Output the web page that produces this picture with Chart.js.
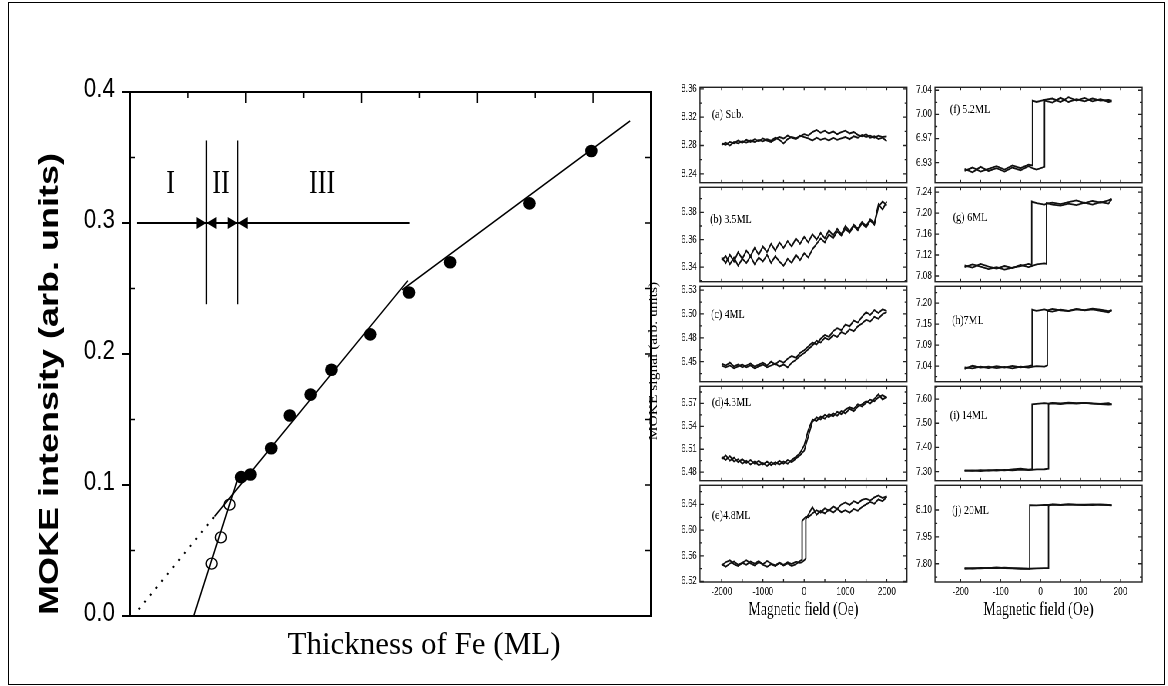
<!DOCTYPE html>
<html>
<head>
<meta charset="utf-8">
<script src="https://cdn.jsdelivr.net/npm/chart.js@4.4.0/dist/chart.umd.min.js"></script>
<style>
  html, body { margin: 0; padding: 0; background: #fff; }
  #page { position: relative; width: 1168px; height: 686px; overflow: hidden; background: #fff; }
  #frame { position: absolute; left: 8px; top: 2px; width: 1157px; height: 683px; border: 1px solid #000; box-sizing: border-box; }
  #main { position: absolute; left: 0; top: 0; }
  #loops { position: absolute; left: 640px; top: 0; width: 686px; height: 686px; transform: scaleX(0.77); transform-origin: 0 0; }
  #loops canvas { position: absolute; }
</style>
</head>
<body>
<div id="page">
  <div id="frame"></div>
  <canvas id="main" width="670" height="686"></canvas>
  <div id="loops"></div>
</div>
<script>
// ---- main panel: MOKE intensity vs Fe thickness ----
const thickFilled = [1.92, 2.08, 2.44, 2.76, 3.12, 3.48, 4.15, 4.82, 5.53, 6.90, 7.97];
const mokeFilled  = [0.106, 0.108, 0.128, 0.153, 0.169, 0.188, 0.215, 0.247, 0.270, 0.315, 0.355];
const thickOpen = [1.41, 1.57, 1.72];
const mokeOpen  = [0.040, 0.060, 0.085];

const fitZeroX = [0.01, 1.10],   fitZeroY = [0, 0];
const fitSteepX = [1.10, 1.90],  fitSteepY = [0, 0.110];
const fitDotX = [0.15, 1.46],    fitDotY = [0.005, 0.076];
const fitMidX = [1.46, 4.80],    fitMidY = [0.076, 0.256];
const fitHighX = [4.70, 8.64],   fitHighY = [0.249, 0.378];

const regionSpanX = [0.12, 4.83];
const regionLevel = 0.30;
const regionEdges = [1.32, 1.86];
const regionEdgeY = [0.238, 0.363];
const regionNames = ['I', 'II', 'III'];
const regionNameX = [0.70, 1.57, 3.32];
const regionNameY = 0.33;

const mokeTicks = [0, 0.1, 0.2, 0.3, 0.4];
const mokeTickLabels = ['0.0', '0.1', '0.2', '0.3', '0.4'];
const mokeMinor = [0.05, 0.15, 0.25, 0.35];
const thickTopTicks = [1, 2, 3, 4, 5, 6, 7, 8];

// ---- hysteresis loops ----
const fieldL = [-2000,-1900,-1800,-1700,-1600,-1500,-1400,-1300,-1200,-1100,-1000,-900,-800,-700,-600,-500,-400,-300,-200,-100,0,100,200,300,400,500,600,700,800,900,1000,1100,1200,1300,1400,1500,1600,1700,1800,1900,2000];
const fieldE = [-2000,-1900,-1800,-1700,-1600,-1500,-1400,-1300,-1200,-1100,-1000,-900,-800,-700,-600,-500,-400,-300,-200,-100,-50,-50,0,40,40,100,200,300,400,500,600,700,800,900,1000,1100,1200,1300,1400,1500,1600,1700,1800,1900,2000];
const fieldF = [-190,-170,-150,-130,-110,-90,-70,-50,-30,-20,-20,-10,10,10,30,50,70,90,110,130,150,170,178];
const fieldG = [-190,-170,-150,-130,-110,-90,-70,-50,-30,-22,-22,-10,10,15,15,30,50,70,90,110,130,150,170,178];
const fieldH = [-190,-170,-150,-130,-110,-90,-70,-50,-30,-21,-21,-10,10,17,17,30,50,70,90,110,130,150,170,178];
const fieldI = [-190,-170,-150,-130,-110,-90,-70,-50,-30,-21,-21,-10,10,20,20,30,50,70,90,110,130,150,170,178];
const fieldJ = [-190,-170,-150,-130,-110,-90,-70,-50,-30,-27,-27,-10,10,20,20,30,50,70,90,110,130,150,170,178];

const sweepA1 = [8.281,8.284,8.280,8.285,8.283,8.286,8.284,8.287,8.285,8.288,8.286,8.289,8.287,8.291,8.288,8.283,8.289,8.292,8.290,8.294,8.292,8.290,8.287,8.291,8.288,8.290,8.287,8.291,8.288,8.290,8.292,8.289,8.293,8.291,8.295,8.292,8.294,8.291,8.294,8.292,8.293];
const sweepA2 = [8.283,8.281,8.285,8.283,8.287,8.284,8.288,8.285,8.289,8.286,8.290,8.287,8.285,8.289,8.292,8.290,8.294,8.291,8.289,8.293,8.296,8.294,8.299,8.302,8.298,8.301,8.297,8.300,8.296,8.299,8.301,8.297,8.299,8.295,8.293,8.296,8.291,8.293,8.289,8.291,8.286];
const sweepB1 = [6.347,6.343,6.349,6.344,6.351,6.346,6.352,6.348,6.354,6.349,6.355,6.351,6.357,6.352,6.358,6.354,6.359,6.355,6.361,6.357,6.362,6.358,6.364,6.360,6.365,6.361,6.367,6.363,6.368,6.364,6.370,6.366,6.371,6.368,6.373,6.370,6.375,6.372,6.386,6.382,6.388];
const sweepB2 = [6.345,6.348,6.342,6.347,6.341,6.346,6.343,6.348,6.342,6.347,6.344,6.349,6.343,6.348,6.344,6.341,6.346,6.343,6.349,6.345,6.350,6.347,6.353,6.357,6.361,6.358,6.364,6.361,6.366,6.363,6.368,6.365,6.370,6.367,6.372,6.369,6.374,6.371,6.384,6.388,6.385];
const sweepC1 = [6.448,6.446,6.449,6.445,6.447,6.444,6.446,6.448,6.445,6.447,6.449,6.446,6.450,6.447,6.451,6.449,6.453,6.456,6.454,6.459,6.462,6.466,6.470,6.468,6.474,6.478,6.476,6.482,6.485,6.483,6.489,6.487,6.493,6.491,6.497,6.502,6.499,6.504,6.501,6.505,6.503];
const sweepC2 = [6.446,6.444,6.446,6.443,6.445,6.447,6.444,6.446,6.443,6.445,6.447,6.444,6.446,6.448,6.445,6.447,6.444,6.449,6.452,6.456,6.459,6.463,6.467,6.472,6.470,6.475,6.473,6.478,6.476,6.481,6.479,6.484,6.482,6.487,6.490,6.494,6.492,6.497,6.495,6.500,6.502];
const sweepD1 = [6.500,6.496,6.501,6.494,6.497,6.491,6.495,6.490,6.494,6.489,6.492,6.488,6.493,6.490,6.495,6.491,6.496,6.493,6.498,6.502,6.508,6.527,6.546,6.552,6.549,6.555,6.552,6.557,6.554,6.560,6.557,6.563,6.560,6.566,6.569,6.573,6.570,6.576,6.582,6.575,6.579];
const sweepD2 = [6.497,6.502,6.495,6.499,6.493,6.497,6.492,6.496,6.491,6.495,6.490,6.494,6.489,6.493,6.490,6.494,6.491,6.496,6.500,6.505,6.515,6.535,6.549,6.547,6.553,6.550,6.556,6.553,6.559,6.556,6.562,6.565,6.563,6.569,6.566,6.571,6.575,6.573,6.578,6.581,6.577];
const sweepEUp = [6.545,6.550,6.553,6.547,6.544,6.549,6.546,6.551,6.548,6.552,6.546,6.543,6.547,6.544,6.549,6.546,6.550,6.547,6.551,6.549,6.550,6.550,6.553,6.556,6.617,6.624,6.636,6.624,6.630,6.626,6.632,6.627,6.633,6.628,6.631,6.627,6.633,6.630,6.636,6.640,6.644,6.641,6.648,6.645,6.652];
const sweepEDown = [6.547,6.543,6.548,6.551,6.546,6.549,6.553,6.548,6.545,6.550,6.547,6.552,6.548,6.545,6.549,6.545,6.548,6.544,6.547,6.552,6.554,6.614,6.618,6.621,6.621,6.620,6.626,6.631,6.627,6.634,6.630,6.637,6.633,6.640,6.643,6.639,6.645,6.642,6.647,6.649,6.646,6.651,6.654,6.650,6.653];
const sweepFUp = [6.921,6.916,6.924,6.918,6.922,6.917,6.923,6.919,6.925,6.922,6.922,6.920,6.924,7.020,7.017,7.024,7.018,7.022,7.019,7.023,7.020,7.021,7.020];
const sweepFDown = [6.918,6.923,6.917,6.921,6.925,6.920,6.926,6.922,6.927,6.926,7.020,7.018,7.021,7.021,7.023,7.018,7.025,7.020,7.024,7.019,7.022,7.018,7.019];
const sweepGUp = [7.100,7.096,7.103,7.098,7.094,7.099,7.095,7.101,7.097,7.099,7.099,7.102,7.104,7.103,7.219,7.216,7.214,7.218,7.215,7.220,7.216,7.221,7.218,7.226];
const sweepGDown = [7.097,7.102,7.098,7.093,7.097,7.092,7.096,7.099,7.103,7.101,7.222,7.219,7.216,7.218,7.218,7.220,7.217,7.221,7.224,7.219,7.223,7.220,7.224,7.227];
const sweepHUp = [7.028,7.036,7.031,7.034,7.030,7.033,7.029,7.034,7.031,7.033,7.033,7.035,7.034,7.037,7.180,7.178,7.183,7.180,7.185,7.181,7.184,7.180,7.176,7.181];
const sweepHDown = [7.032,7.029,7.034,7.030,7.035,7.031,7.036,7.032,7.035,7.037,7.183,7.180,7.184,7.181,7.181,7.185,7.181,7.179,7.184,7.182,7.186,7.183,7.179,7.182];
const sweepIUp = [7.303,7.305,7.302,7.306,7.304,7.307,7.305,7.308,7.306,7.307,7.307,7.309,7.310,7.312,7.580,7.582,7.579,7.583,7.581,7.584,7.582,7.580,7.583,7.578];
const sweepIDown = [7.305,7.303,7.306,7.304,7.307,7.305,7.309,7.312,7.308,7.310,7.578,7.580,7.583,7.581,7.581,7.584,7.582,7.585,7.583,7.584,7.581,7.579,7.577,7.578];
const sweepJUp = [7.772,7.776,7.774,7.777,7.775,7.778,7.776,7.774,7.773,7.772,7.772,7.774,7.775,7.776,8.124,8.130,8.128,8.131,8.129,8.130,8.128,8.131,8.129,8.127];
const sweepJDown = [7.775,7.773,7.777,7.775,7.779,7.776,7.774,7.772,7.771,7.771,8.127,8.126,8.129,8.128,8.128,8.131,8.129,8.132,8.130,8.128,8.131,8.129,8.127,8.126];

const rangeA = [8.2274, 8.3623], ticksA = [8.24, 8.28, 8.32, 8.36],     labelsA = ['8.24', '8.28', '8.32', '8.36'];
const rangeB = [6.3293, 6.3983], ticksB = [6.34, 6.36, 6.38],           labelsB = ['6.34', '6.36', '6.38'];
const rangeC = [6.429, 6.529],   ticksC = [6.45, 6.475, 6.50, 6.525],   labelsC = ['6.45', '6.48', '6.50', '6.53'];
const rangeD = [6.4688, 6.5925], ticksD = [6.48, 6.51, 6.54, 6.57],     labelsD = ['6.48', '6.51', '6.54', '6.57'];
const rangeE = [6.5192, 6.6698], ticksE = [6.52, 6.56, 6.60, 6.64],     labelsE = ['6.52', '6.56', '6.60', '6.64'];
const rangeF = [6.901, 7.0393],  ticksF = [6.93, 6.965, 7.00, 7.035],   labelsF = ['6.93', '6.97', '7.00', '7.04'];
const rangeG = [7.0691, 7.2491], ticksG = [7.08, 7.12, 7.16, 7.20, 7.24], labelsG = ['7.08', '7.12', '7.16', '7.20', '7.24'];
const rangeH = [6.9943, 7.2443], ticksH = [7.035, 7.09, 7.145, 7.20],   labelsH = ['7.04', '7.09', '7.15', '7.20'];
const rangeI = [7.2626, 7.6528], ticksI = [7.30, 7.40, 7.50, 7.60],     labelsI = ['7.30', '7.40', '7.50', '7.60'];
const rangeJ = [7.698, 8.238],   ticksJ = [7.80, 7.95, 8.10],           labelsJ = ['7.80', '7.95', '8.10'];

const fieldRangeL = [-2525, 2490], fieldTicksL = [-2000, -1000, 0, 1000, 2000];
const fieldMinorL = [-2000, -1500, -1000, -500, 0, 500, 1000, 1500, 2000];
const fieldRangeR = [-264, 254],   fieldTicksR = [-200, -100, 0, 100, 200];
const fieldMinorR = [-200, -150, -100, -50, 0, 50, 100, 150, 200];

const SERIF = '"Liberation Serif", "Times New Roman", serif';
const SANS = '"Liberation Sans", Arial, sans-serif';
const SQ = 0.77; // the original figure is squeezed horizontally

const pts = (xs, ys) => xs.map((x, i) => ({ x, y: ys[i] }));

function squeezedText(ctx, text, x, y, font, sx, align) {
  ctx.save();
  ctx.translate(x, y);
  ctx.scale(sx, 1);
  ctx.font = font;
  ctx.textAlign = align || 'center';
  ctx.textBaseline = 'middle';
  ctx.fillText(text, 0, 0);
  ctx.restore();
}

function verticalText(ctx, text, x, y, font, sq) {
  ctx.save();
  ctx.translate(x, y);
  ctx.rotate(-Math.PI / 2);
  ctx.scale(1, sq);
  ctx.font = font;
  ctx.textAlign = 'center';
  ctx.textBaseline = 'middle';
  ctx.fillText(text, 0, 0);
  ctx.restore();
}

const lineSet = (xs, ys, extra) => Object.assign({
  data: pts(xs, ys), showLine: true, pointRadius: 0, borderColor: '#000', borderWidth: 1.5, tension: 0
}, extra || {});

const mainDecor = {
  id: 'mainDecor',
  afterDraw(chart) {
    const { ctx, chartArea: a, scales: { x, y } } = chart;
    ctx.save();
    ctx.strokeStyle = '#000';
    ctx.fillStyle = '#000';
    ctx.lineWidth = 2;
    ctx.strokeRect(a.left, a.top, a.right - a.left, a.bottom - a.top);

    ctx.lineWidth = 1.5;
    ctx.beginPath();
    thickTopTicks.forEach(v => {
      const px = x.getPixelForValue(v);
      ctx.moveTo(px, a.top);
      ctx.lineTo(px, a.top + (v % 2 === 0 ? 11 : 6));
    });
    mokeMinor.forEach(v => {
      const py = y.getPixelForValue(v);
      ctx.moveTo(a.left, py); ctx.lineTo(a.left + 5, py);
    });
    mokeTicks.concat(mokeMinor).forEach(v => {
      if (v <= 0 || v >= 0.4) return;
      const py = y.getPixelForValue(v);
      ctx.moveTo(a.right, py); ctx.lineTo(a.right - 6, py);
    });
    ctx.stroke();

    // y tick labels of the library axis, drawn narrow like the original
    y.ticks.forEach((t, i) => {
      squeezedText(ctx, mokeTickLabels[i], a.left - 15, y.getPixelForValue(t.value) - 3, `28px ${SANS}`, 0.8, 'right');
    });

    // arrowheads on the region bar
    const yr = y.getPixelForValue(regionLevel);
    regionEdges.forEach(e => {
      const px = x.getPixelForValue(e);
      [-1, 1].forEach(dir => {
        ctx.beginPath();
        ctx.moveTo(px, yr);
        ctx.lineTo(px + dir * 10, yr - 6);
        ctx.lineTo(px + dir * 10, yr + 6);
        ctx.closePath();
        ctx.fill();
      });
    });

    regionNames.forEach((t, i) => {
      squeezedText(ctx, t, x.getPixelForValue(regionNameX[i]), y.getPixelForValue(regionNameY), `34px ${SERIF}`, SQ);
    });

    verticalText(ctx, 'MOKE intensity (arb. units)', 50, 384, `bold 36px ${SANS}`, SQ);
    verticalText(ctx, 'MOKE signal (arb. units)', 654, 361, `15.5px ${SERIF}`, SQ);

    ctx.font = `31px ${SERIF}`;
    ctx.textAlign = 'center';
    ctx.textBaseline = 'alphabetic';
    ctx.fillText('Thickness of Fe (ML)', 424, 654);
    ctx.restore();
  }
};

new Chart(document.getElementById('main'), {
  type: 'scatter',
  data: {
    datasets: [
      { data: pts(thickFilled, mokeFilled), pointRadius: 6.3, pointBackgroundColor: '#000', pointBorderWidth: 0 },
      { data: pts(thickOpen, mokeOpen), pointRadius: 5.5, pointBorderWidth: 1.4, pointBorderColor: '#000', pointBackgroundColor: 'rgba(0,0,0,0)' },
      lineSet(fitZeroX, fitZeroY, { borderWidth: 2 }),
      lineSet(fitSteepX, fitSteepY),
      lineSet(fitDotX, fitDotY, { borderWidth: 2, borderDash: [2, 7] }),
      lineSet(fitMidX, fitMidY),
      lineSet(fitHighX, fitHighY),
      lineSet(regionSpanX, [regionLevel, regionLevel], { borderWidth: 2 }),
      lineSet([regionEdges[0], regionEdges[0]], regionEdgeY, { borderWidth: 1.3 }),
      lineSet([regionEdges[1], regionEdges[1]], regionEdgeY, { borderWidth: 1.3 })
    ]
  },
  options: {
    responsive: false,
    animation: false,
    devicePixelRatio: 1,
    layout: { padding: { left: 60, top: 92, right: 19, bottom: 70 } },
    plugins: { legend: { display: false }, tooltip: { enabled: false } },
    scales: {
      x: { type: 'linear', min: 0, max: 9, display: false },
      y: {
        type: 'linear', min: 0, max: 0.4,
        afterBuildTicks: s => { s.ticks = mokeTicks.map(v => ({ value: v })); },
        afterFit: s => { s.width = 70; },
        grid: { drawOnChartArea: false, drawTicks: true, tickLength: 8, lineWidth: 2, color: '#000' },
        border: { display: false },
        ticks: { display: false }
      }
    }
  },
  plugins: [mainDecor]
});

// ---- small loop panels ----
const ROW_TOP = [85, 185, 284, 384, 483, 582];
const COLS = [
  { left: 0, width: 364, axisW: 77.9, padRight: 17.3, range: fieldRangeL, ticks: fieldTicksL, minor: fieldMinorL },
  { left: 300, width: 386, axisW: 83.1, padRight: 34.0, range: fieldRangeR, ticks: fieldTicksR, minor: fieldMinorR }
];

const panels = [
  { name: '(a) Sub.',  col: 0, row: 0, field: fieldL, up: sweepA1, down: sweepA2, range: rangeA, ticks: ticksA, labels: labelsA, tag: [12, 27] },
  { name: '(b) 3.5ML', col: 0, row: 1, field: fieldL, up: sweepB1, down: sweepB2, range: rangeB, ticks: ticksB, labels: labelsB, tag: [10, 32] },
  { name: '(c) 4ML',   col: 0, row: 2, field: fieldL, up: sweepC1, down: sweepC2, range: rangeC, ticks: ticksC, labels: labelsC, tag: [11, 28] },
  { name: '(d)4.3ML',  col: 0, row: 3, field: fieldL, up: sweepD1, down: sweepD2, range: rangeD, ticks: ticksD, labels: labelsD, tag: [12, 16] },
  { name: '(e)4.8ML',  col: 0, row: 4, field: fieldE, up: sweepEUp, down: sweepEDown, range: rangeE, ticks: ticksE, labels: labelsE, tag: [12, 30] },
  { name: '(f) 5.2ML', col: 1, row: 0, field: fieldF, up: sweepFUp, down: sweepFDown, range: rangeF, ticks: ticksF, labels: labelsF, tag: [15, 22] },
  { name: '(g) 6ML',   col: 1, row: 1, field: fieldG, up: sweepGUp, down: sweepGDown, range: rangeG, ticks: ticksG, labels: labelsG, tag: [18, 30] },
  { name: '(h)7ML',    col: 1, row: 2, field: fieldH, up: sweepHUp, down: sweepHDown, range: rangeH, ticks: ticksH, labels: labelsH, tag: [17, 34] },
  { name: '(i) 14ML',  col: 1, row: 3, field: fieldI, up: sweepIUp, down: sweepIDown, range: rangeI, ticks: ticksI, labels: labelsI, tag: [15, 29] },
  { name: '(j) 20ML',  col: 1, row: 4, field: fieldJ, up: sweepJUp, down: sweepJDown, range: rangeJ, ticks: ticksJ, labels: labelsJ, tag: [17, 25] }
];

function panelDecor(p, col, last) {
  return {
    id: 'panelDecor',
    afterDraw(chart) {
      const { ctx, chartArea: a, scales: { x, y } } = chart;
      ctx.save();
      ctx.strokeStyle = '#222';
      ctx.lineWidth = 1.4;
      ctx.strokeRect(a.left, a.top, a.right - a.left, a.bottom - a.top);
      ctx.lineWidth = 1.3;
      ctx.beginPath();
      col.minor.forEach(v => {
        const px = x.getPixelForValue(v);
        ctx.moveTo(px, a.top); ctx.lineTo(px, a.top + 3);
        ctx.moveTo(px, a.bottom); ctx.lineTo(px, a.bottom - 3);
      });
      const step = p.ticks[1] - p.ticks[0];
      for (let k = -6; k <= 2 * p.ticks.length + 6; k++) {
        const v = p.ticks[0] + k * step / 2;
        if (v <= y.min || v >= y.max) continue;
        const py = y.getPixelForValue(v);
        const len = k % 2 === 0 ? 5 : 3;
        ctx.moveTo(a.left, py); ctx.lineTo(a.left + len, py);
        ctx.moveTo(a.right, py); ctx.lineTo(a.right - len, py);
      }
      ctx.stroke();

      ctx.fillStyle = '#000';
      ctx.font = `13px ${SERIF}`;
      ctx.textAlign = 'left';
      ctx.textBaseline = 'middle';
      ctx.fillText(p.name, a.left + p.tag[0] / SQ, a.top + p.tag[1]);

      if (last) {
        ctx.font = `18px ${SERIF}`;
        ctx.textAlign = 'center';
        ctx.textBaseline = 'alphabetic';
        ctx.fillText('Magnetic field (Oe)', (a.left + a.right) / 2, a.bottom + 33);
      }
      ctx.restore();
    }
  };
}

const loopsBox = document.getElementById('loops');
panels.forEach(p => {
  const col = COLS[p.col];
  const last = p.row === 4;
  const top = ROW_TOP[p.row];
  const plotH = ROW_TOP[p.row + 1] - top;
  const padBottom = last ? 26 : 8;
  const axisH = last ? 22 : 0;
  const canvas = document.createElement('canvas');
  canvas.width = col.width;
  canvas.height = 8 + plotH + axisH + padBottom;
  canvas.style.left = col.left + 'px';
  canvas.style.top = (top - 8) + 'px';
  loopsBox.appendChild(canvas);

  const curve = ys => ({ data: pts(p.field, ys), showLine: true, pointRadius: 0, borderColor: '#111', borderWidth: 1.8, tension: 0 });

  new Chart(canvas, {
    type: 'scatter',
    data: { datasets: [curve(p.up), curve(p.down)] },
    options: {
      responsive: false,
      animation: false,
      devicePixelRatio: 1,
      layout: { padding: { left: 0, top: 8, right: col.padRight, bottom: padBottom } },
      plugins: { legend: { display: false }, tooltip: { enabled: false } },
      scales: {
        x: {
          type: 'linear', min: col.range[0], max: col.range[1], display: last,
          afterBuildTicks: s => { s.ticks = col.ticks.map(v => ({ value: v })); },
          afterFit: s => { s.height = axisH; },
          grid: { display: false, drawTicks: false },
          border: { display: false },
          ticks: { color: '#000', padding: 4, maxRotation: 0, autoSkip: false, font: { family: SANS, size: 10.5 }, callback: v => String(v) }
        },
        y: {
          type: 'linear', min: p.range[0], max: p.range[1],
          afterBuildTicks: s => { s.ticks = p.ticks.map(v => ({ value: v })); },
          afterFit: s => { s.width = col.axisW; },
          grid: { display: false, drawTicks: false },
          border: { display: false },
          ticks: { color: '#000', padding: 4, autoSkip: false, font: { family: SANS, size: 10.5 }, callback: (v, i) => p.labels[i] }
        }
      }
    },
    plugins: [panelDecor(p, col, last)]
  });
});
</script>
</body>
</html>
